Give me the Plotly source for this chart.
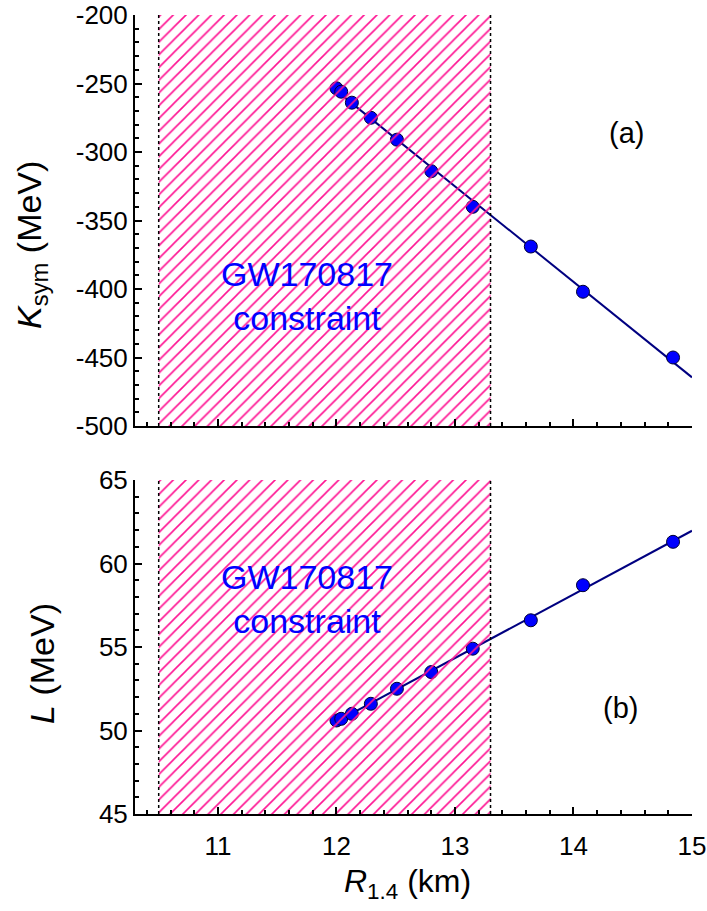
import numpy as np
import plotly.graph_objects as go

# ---- data ----
R14 = [12.00, 12.04, 12.13, 12.29, 12.51, 12.80, 13.15, 13.64, 14.08, 14.84]
Ksym = [-253.5, -256, -264, -275, -291, -314, -340, -369, -402, -450]
L = [50.6, 50.7, 51.0, 51.6, 52.5, 53.5, 54.9, 56.6, 58.7, 61.3]
constraint_R = [10.5, 13.3]
x_range = [10.3, 15.0]
k_range = [-500, -200]
l_range = [45, 65]
x_ticks = [11, 12, 13, 14, 15]
k_ticks = [-500, -450, -400, -350, -300, -250, -200]
l_ticks = [45, 50, 55, 60, 65]

FONT = "Arial, Liberation Sans, sans-serif"
PINK = "#FF1493"

fig = go.Figure()

# fit lines and points
xfit = np.array([R14[0], x_range[1]])
for yv, xa, ya in [(Ksym, "x", "y"), (L, "x2", "y2")]:
    p = np.polyfit(R14, yv, 1)
    fig.add_trace(go.Scatter(x=xfit, y=np.polyval(p, xfit), mode="lines",
                             line=dict(color="#000080", width=2),
                             xaxis=xa, yaxis=ya, showlegend=False))
    fig.add_trace(go.Scatter(x=R14, y=yv, mode="markers",
                             marker=dict(size=13, color="#0000FF",
                                         line=dict(color="#000033", width=1)),
                             xaxis=xa, yaxis=ya, showlegend=False))

# hatched constraint regions (drawn on top, transparent background)
for rng, xa, ya in [(k_range, "x", "y"), (l_range, "x2", "y2")]:
    x0, x1 = constraint_R
    fig.add_trace(go.Scatter(x=[x0, x1, x1, x0, x0], y=[rng[0], rng[0], rng[1], rng[1], rng[0]],
                             mode="lines", line=dict(width=0), fill="toself",
                             fillcolor="rgba(0,0,0,0)",
                             fillpattern=dict(shape="/", fgcolor=PINK, bgcolor="rgba(0,0,0,0)",
                                              fgopacity=1, size=9, solidity=0.18),
                             xaxis=xa, yaxis=ya, showlegend=False, hoverinfo="skip"))
    for xv in constraint_R:
        fig.add_shape(type="line", x0=xv, x1=xv, y0=0, y1=1, xref=xa,
                      yref=ya + " domain", line=dict(color="black", width=1.5, dash="dot"))

axis_common = dict(showline=True, linecolor="black", linewidth=2, ticks="inside",
                   ticklen=7, tickwidth=1.5, tickcolor="black", showgrid=False,
                   zeroline=False, mirror=False, automargin=False,
                   ticklabeloverflow="allow",
                   tickfont=dict(family=FONT, size=26, color="black"))

def tick_text(vals):
    return [str(v) for v in vals]

fig.update_layout(
    width=707, height=911,
    margin=dict(l=135, r=15, t=15, b=97, autoexpand=False),
    plot_bgcolor="white", paper_bgcolor="white",
    font=dict(family=FONT, color="black"),
    xaxis=dict(range=x_range, tickvals=x_ticks, showticklabels=False, anchor="y",
               minor=dict(ticks="inside", ticklen=4, dtick=0.2, tick0=0, tickcolor="black"),
               **axis_common),
    yaxis=dict(range=k_range, tickvals=k_ticks, ticktext=tick_text(k_ticks),
               domain=[0.4856, 1.0], anchor="x",
               minor=dict(ticks="inside", ticklen=4, dtick=10, tick0=0, tickcolor="black"),
               **axis_common),
    xaxis2=dict(range=x_range, tickvals=x_ticks, ticktext=tick_text(x_ticks), anchor="y2",
                ticklabelstandoff=8,
                minor=dict(ticks="inside", ticklen=4, dtick=0.2, tick0=0, tickcolor="black"),
                **axis_common),
    yaxis2=dict(range=l_range, tickvals=l_ticks, ticktext=tick_text(l_ticks),
                domain=[0.0, 0.418], anchor="x2",
                minor=dict(ticks="inside", ticklen=4, dtick=1, tick0=0, tickcolor="black"),
                **axis_common),
)

ann = [
    dict(text="GW170817<br>constraint", x=11.75, y=-405, xref="x", yref="y",
         font=dict(size=34, color="#0000FF", family=FONT), showarrow=False),
    dict(text="GW170817<br>constraint", x=11.75, y=57.9, xref="x2", yref="y2",
         font=dict(size=34, color="#0000FF", family=FONT), showarrow=False),
    dict(text="(a)", x=14.45, y=-286, xref="x", yref="y",
         font=dict(size=29, family=FONT), showarrow=False),
    dict(text="(b)", x=14.4, y=51.35, xref="x2", yref="y2",
         font=dict(size=29, family=FONT), showarrow=False),
    dict(text="<i>K</i><sub>sym</sub> (MeV)", x=-0.187, y=0.712, xref="paper", yref="paper",
         xanchor="center", yanchor="middle",
         textangle=-90, font=dict(size=34, family=FONT), showarrow=False),
    dict(text="<i>L</i> (MeV)", x=-0.167, y=0.189, xref="paper", yref="paper",
         xanchor="center", yanchor="middle",
         textangle=-90, font=dict(size=34, family=FONT), showarrow=False),
    dict(text="<i>R</i><sub>1.4</sub> (km)", x=0.49, y=-0.0876, xref="paper", yref="paper",
         xanchor="center", yanchor="middle",
         font=dict(size=32, family=FONT), showarrow=False),
]
fig.update_layout(annotations=ann)

# remove the browser's default 8px body margin so the figure fills the window exactly
fig.write_html("out.html", config={"displayModeBar": False},
               post_script="document.body.style.margin='0';")
